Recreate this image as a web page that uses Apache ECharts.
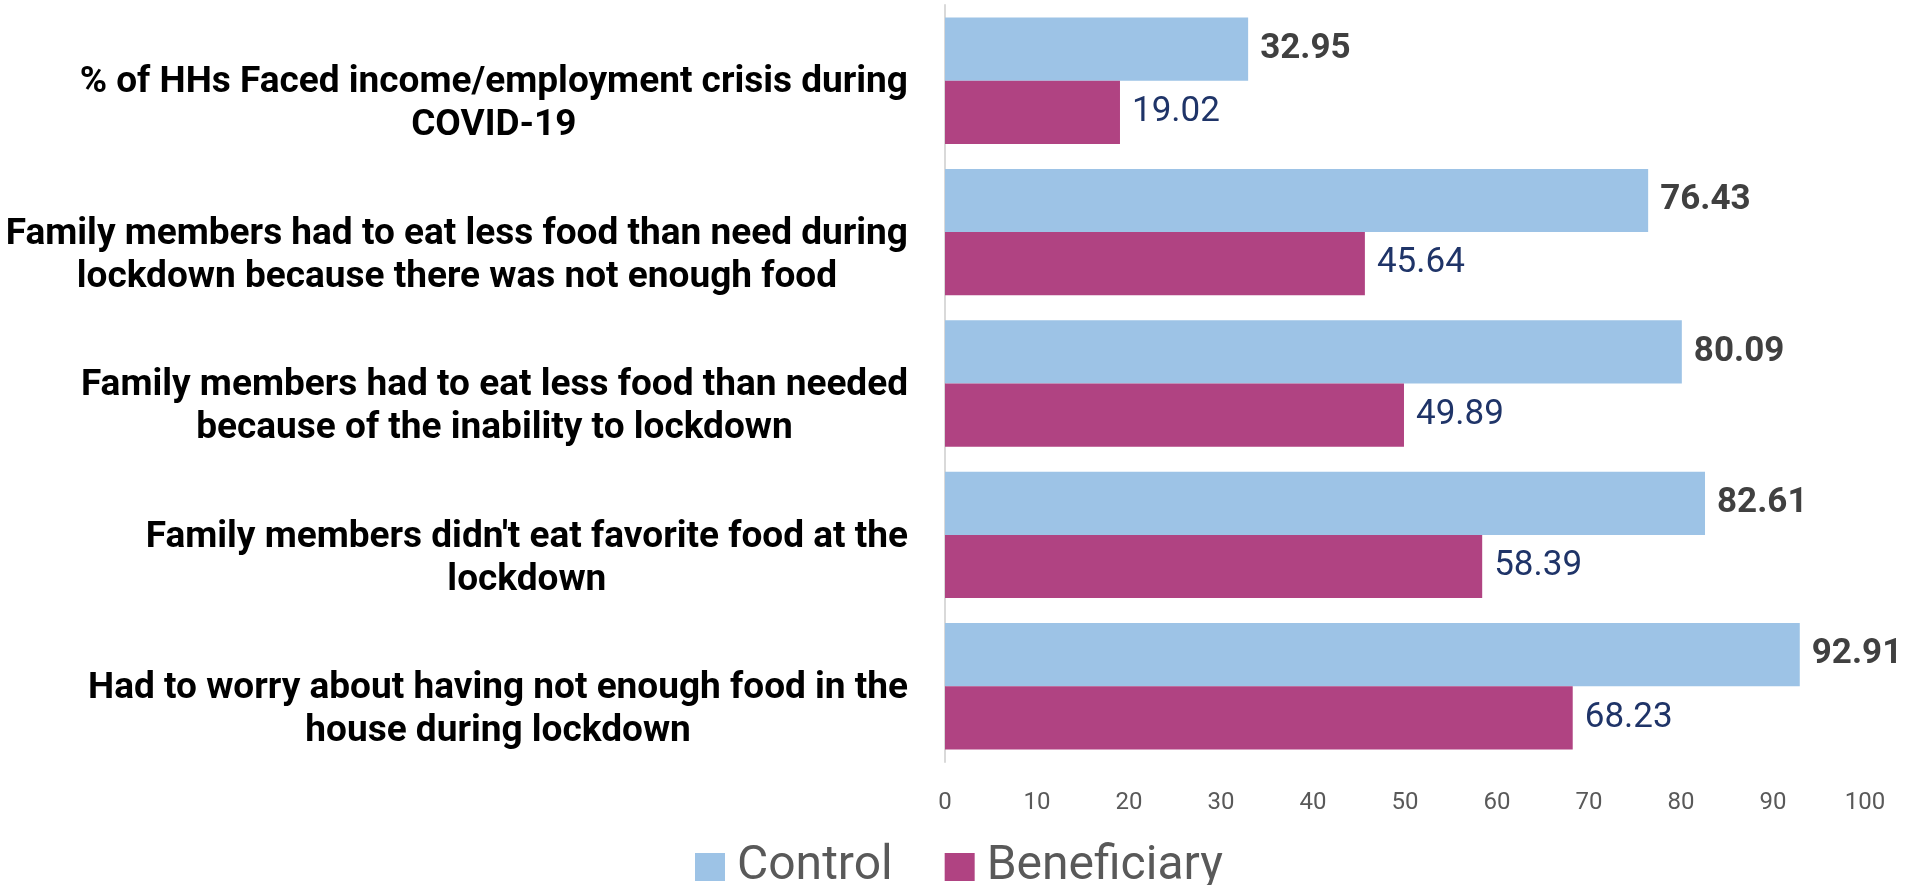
<!DOCTYPE html>
<html>
<head>
<meta charset="utf-8">
<script src="https://cdn.jsdelivr.net/npm/echarts@6/dist/echarts.min.js"></script>
<style>
html,body{margin:0;padding:0;background:#fff;}
#chart{width:1912px;height:885px;}
</style>
</head>
<body>
<div id="chart"></div>
<script>
const categories = [
  "% of HHs Faced income/employment crisis during\nCOVID-19",
  "Family members had to eat less food than need during\nlockdown because there was not enough food",
  "Family members had to eat less food than needed\nbecause of the inability to lockdown",
  "Family members didn't eat favorite food at the\nlockdown",
  "Had to worry about having not enough food in the\nhouse during lockdown"
];
const controlValues = [32.95, 76.43, 80.09, 82.61, 92.91];
const beneficiaryValues = [19.02, 45.64, 49.89, 58.39, 68.23];
const seriesNames = ["Control", "Beneficiary"];
const xTicks = { min: 0, max: 100, interval: 10 };

const FONT = "Roboto, sans-serif";
const chart = echarts.init(document.getElementById('chart'), null, {renderer: 'canvas'});
chart.setOption({
  animation: false,
  grid: { left: 945, right: 47, top: 5, bottom: 123, containLabel: false },
  legend: {
    left: 690, top: 838,
    itemWidth: 30, itemHeight: 28, itemGap: 52,
    icon: 'rect',
    textStyle: { fontSize: 48, color: '#595959', fontFamily: FONT, padding: [0,0,0,7] },
    data: seriesNames
  },
  xAxis: {
    type: 'value', min: xTicks.min, max: xTicks.max, interval: xTicks.interval,
    axisLine: { show: false }, axisTick: { show: false }, splitLine: { show: false },
    axisLabel: { fontSize: 24, color: '#595959', margin: 29, fontFamily: FONT }
  },
  yAxis: {
    type: 'category', inverse: true, data: categories,
    axisLine: { show: true, lineStyle: { color: '#D9D9D9', width: 2 } },
    axisTick: { show: false },
    axisLabel: {
      margin: 37,
      padding: [48, 0, 0, 0],
      formatter: v => v.split('\n').map(l => '{c|' + l + '}').join('\n'),
      rich: { c: { align: 'center', fontSize: 37, fontWeight: 'bold', color: '#000', fontFamily: FONT, lineHeight: 43 } }
    }
  },
  series: [
    {
      name: seriesNames[0], type: 'bar', data: controlValues,
      barGap: '0%', barCategoryGap: '16.5%',
      itemStyle: { color: '#9DC3E6' },
      label: { show: true, position: 'right', distance: 12, fontSize: 35, fontWeight: 'bold', color: '#404040', fontFamily: FONT, formatter: p => p.value.toFixed(2) }
    },
    {
      name: seriesNames[1], type: 'bar', data: beneficiaryValues,
      barGap: '0%', barCategoryGap: '16.5%',
      itemStyle: { color: '#B04382' },
      label: { show: true, position: 'right', distance: 12, fontSize: 35, color: '#1F3468', fontFamily: FONT, formatter: p => p.value.toFixed(2) }
    }
  ]
});
</script>
</body>
</html>
